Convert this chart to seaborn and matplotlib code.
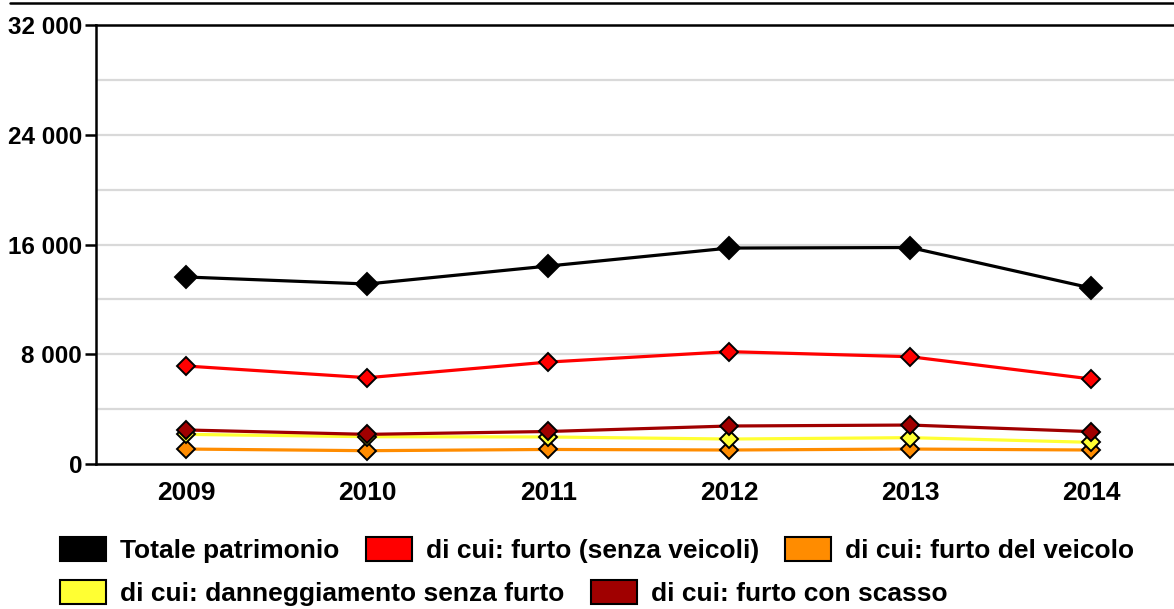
import matplotlib
matplotlib.use("Agg")
import matplotlib.pyplot as plt
from matplotlib.lines import Line2D
from matplotlib.patches import Patch
from matplotlib.ticker import FuncFormatter, MultipleLocator
import seaborn as sns
import pandas as pd

anni = ["2009", "2010", "2011", "2012", "2013", "2014"]
totale_patrimonio = [13630, 13120, 14430, 15740, 15780, 12830]
furto_senza_veicoli = [7140, 6290, 7430, 8190, 7820, 6200]
furto_del_veicolo = [1090, 970, 1060, 1020, 1090, 1020]
danneggiamento_senza_furto = [2160, 1990, 1970, 1820, 1920, 1580]
furto_con_scasso = [2480, 2160, 2370, 2770, 2840, 2360]

serie = [
    ("Totale patrimonio", totale_patrimonio, "#000000", 11.5),
    ("di cui: furto (senza veicoli)", furto_senza_veicoli, "#ff0000", 9.5),
    ("di cui: furto del veicolo", furto_del_veicolo, "#ff8c00", 9.5),
    ("di cui: danneggiamento senza furto", danneggiamento_senza_furto, "#ffff33", 9.5),
    ("di cui: furto con scasso", furto_con_scasso, "#a00000", 9.5),
]

sns.set_style("white")
plt.rcParams["font.family"] = ["Liberation Sans", "DejaVu Sans"]
plt.rcParams["font.weight"] = "bold"
plt.rcParams["text.color"] = "black"
plt.rcParams["xtick.color"] = "black"
plt.rcParams["ytick.color"] = "black"

W, H = 1174, 609
fig = plt.figure(figsize=(W / 100, H / 100), dpi=100)
ax = fig.add_axes([96 / W, 1 - 464 / H, (1181.5 - 96) / W, (464 - 25) / H])

for nome, valori, colore, ms in serie:
    df = pd.DataFrame({"anno": anni, "valore": valori})
    sns.lineplot(data=df, x="anno", y="valore", ax=ax, color=colore,
                 linewidth=2.3, marker="D", markersize=ms,
                 markeredgecolor="black", markeredgewidth=1.4,
                 markerfacecolor=colore, sort=False, zorder=3)

ax.set_xlim(-0.5, 5.5)
ax.set_ylim(0, 32000)
ax.yaxis.set_major_locator(MultipleLocator(8000))
ax.yaxis.set_minor_locator(MultipleLocator(4000))
ax.yaxis.set_major_formatter(FuncFormatter(lambda v, p: f"{int(v):,}".replace(",", " ")))
ax.grid(True, axis="y", which="both", color="#d9d9d9", linewidth=1.6, zorder=0)
ax.set_axisbelow(True)
ax.set_xlabel("")
ax.set_ylabel("")

for s in ["left", "bottom", "top"]:
    ax.spines[s].set_visible(True)
    ax.spines[s].set_color("black")
    ax.spines[s].set_linewidth(1.8)
ax.spines["right"].set_visible(False)

ax.tick_params(axis="y", which="major", length=8, width=1.8, color="black",
               labelcolor="black", pad=2, labelsize=17.5, left=True)
ax.tick_params(axis="y", which="minor", length=0)
ax.tick_params(axis="x", length=0, pad=12, labelsize=19, labelcolor="black")
for lab in ax.get_xticklabels() + ax.get_yticklabels():
    lab.set_fontweight("bold")

# thin rule across the top of the figure
fig.add_artist(Line2D([10 / W, 1], [1 - 3 / H, 1 - 3 / H], transform=fig.transFigure,
                      color="black", linewidth=1.8))

def voce(nome, colore):
    return Patch(facecolor=colore, edgecolor="black", linewidth=1.5, label=nome)

riga1 = [voce(n, c) for n, _, c, _ in serie[:3]]
riga2 = [voce(n, c) for n, _, c, _ in serie[3:]]
stile = dict(frameon=False, handlelength=1.74, handleheight=1.0, handletextpad=0.53,
             columnspacing=1.0, borderaxespad=0, borderpad=0, labelcolor="black",
             prop={"family": "Liberation Sans", "weight": "bold", "size": 19})
fig.legend(handles=riga1, ncol=3, loc="center left",
           bbox_to_anchor=(60 / W, 1 - 550 / H), **stile)
fig.legend(handles=riga2, ncol=2, loc="center left",
           bbox_to_anchor=(60 / W, 1 - 593 / H), **stile)

fig.savefig("out.png", dpi=100)
